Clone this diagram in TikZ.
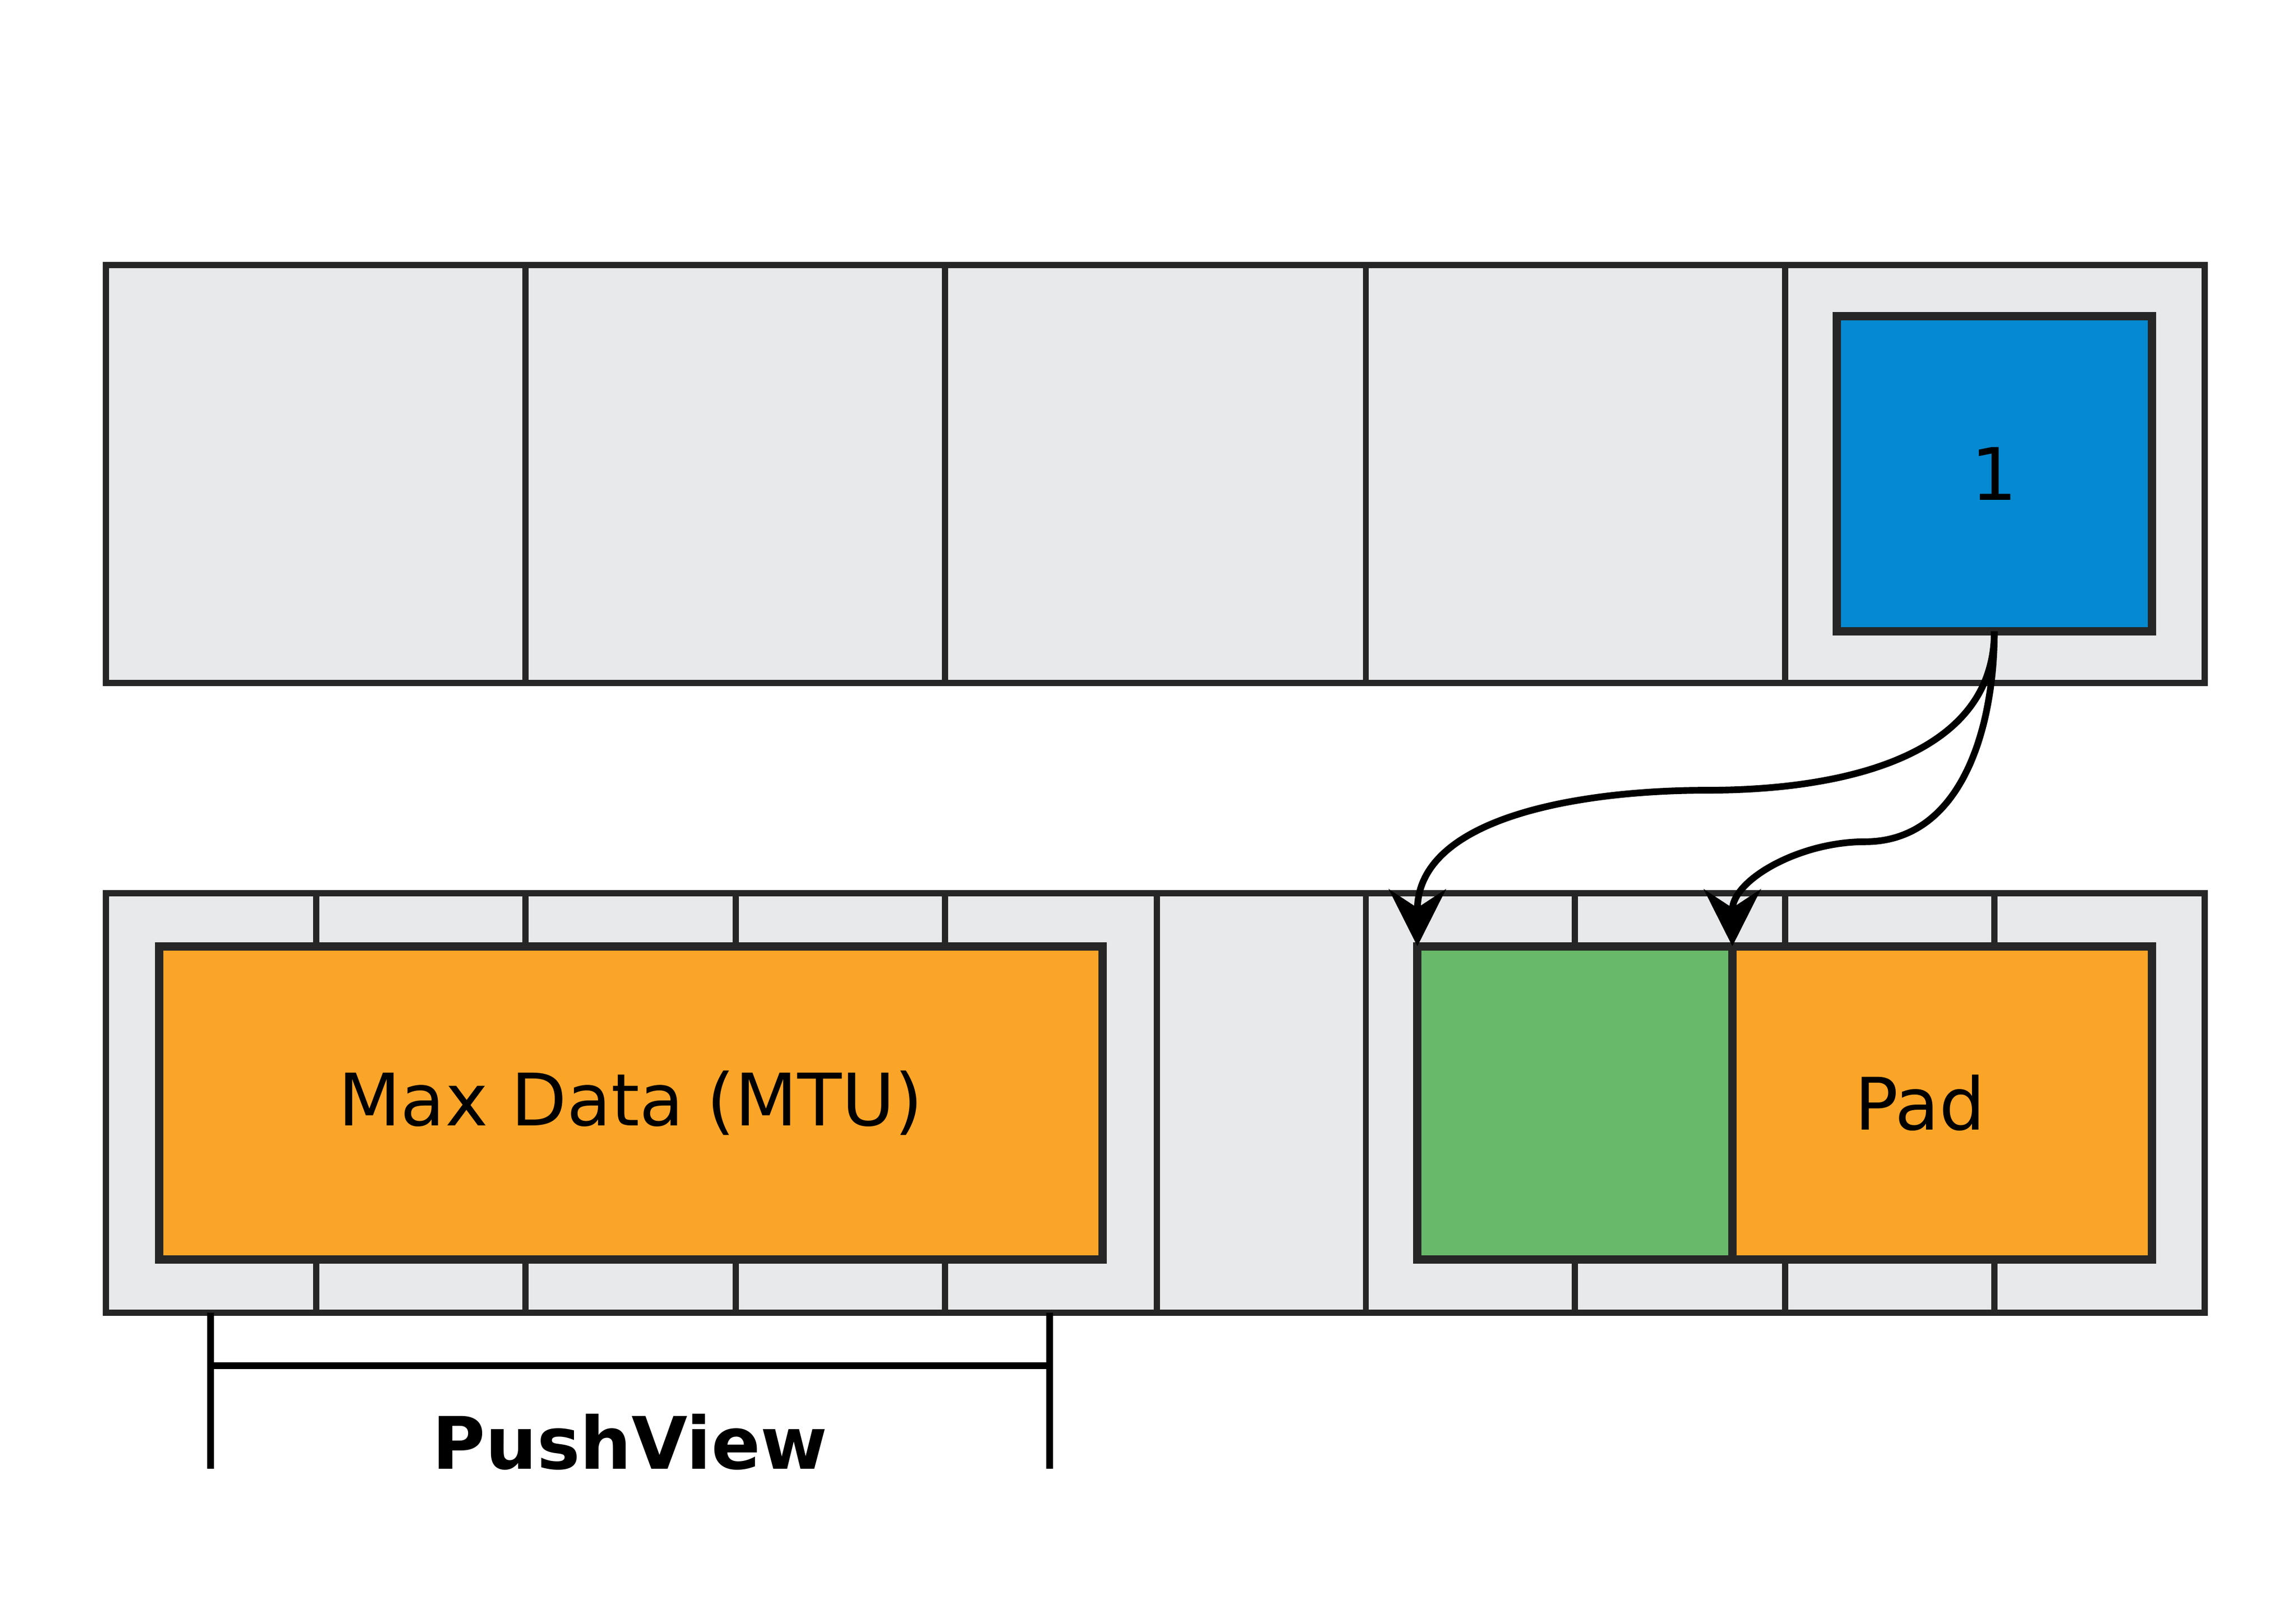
\documentclass[tikz,border=0pt]{standalone}
\usepackage{fontspec}
\setmainfont{DejaVu Sans}
\usetikzlibrary{arrows.meta}
\definecolor{cellgrey}{HTML}{E8E9EB}
\definecolor{edgegrey}{HTML}{262626}
\definecolor{pktblue}{HTML}{0589D1}
\definecolor{pktorange}{HTML}{FBA528}
\definecolor{pktgreen}{HTML}{68BA6A}
\tikzset{
    cell/.style={
           rectangle,
           draw=edgegrey, line width=1.2pt,
           fill=cellgrey,
           inner sep=0pt, outer sep=0pt,
           },
    block/.style={
           rectangle,
           draw=edgegrey, line width=1.6pt,
           inner sep=0pt, outer sep=0pt,
           font=\fontsize{14}{16}\selectfont,
           },
    tick/.style={draw=edgegrey, line width=1.2pt},
    move/.style={line width=1.3pt, -{Stealth[length=11pt,width=11pt]}},
}
\begin{document}
\begin{tikzpicture}
    \useasboundingbox (0,0) rectangle (15.6,11);
    % upper row of slots
    \foreach \i/\xa/\xb in {1/0.72/3.57, 2/3.57/6.42, 3/6.42/9.28, 4/9.28/12.13, 5/12.13/14.98}
        \draw[cell] (\xa,6.36) rectangle (\xb,9.2);
    \node[block, fill=pktblue, minimum width=2.14cm, minimum height=2.14cm] (one) at (13.55,7.78) {1};

    % lower row of slots
    \draw[cell] (0.72,2.08) rectangle (7.86,4.93);
    \draw[cell] (7.86,2.08) rectangle (9.28,4.93);
    \draw[cell] (9.28,2.08) rectangle (14.98,4.93);
    \foreach \x in {2.15, 3.57, 5.00, 6.42, 10.70, 12.13, 13.55} {
        \draw[tick] (\x,4.93) -- (\x,4.57);
        \draw[tick] (\x,2.08) -- (\x,2.44);
    }
    \node[block, fill=pktorange, minimum width=6.41cm, minimum height=2.13cm] (data) at (4.285,3.505) {Max Data (MTU)};
    \node[block, fill=pktgreen, minimum width=2.14cm, minimum height=2.13cm] (head) at (10.70,3.505) {};
    \node[block, fill=pktorange, minimum width=2.85cm, minimum height=2.13cm] (pad) at (13.195,3.505) {\hspace*{-0.3cm}Pad};

    % copies from the upper slot
    \draw[move] (one.south) to[out=-90,in=0] (11.6,5.63) to[out=180,in=90] (head.north west);
    \draw[move] (one.south) to[out=-90,in=0] (12.67,5.28) to[out=180,in=90] (head.north east);

    % push view marker
    \coordinate (pvl) at (1.43,2.08);
    \coordinate (pvr) at (7.13,2.08);
    \draw[line width=1.3pt] (pvl) -- ++(0,-1.06) (pvr) -- ++(0,-1.06);
    \draw[line width=1.3pt] ([yshift=-0.36cm]pvl) -- ([yshift=-0.36cm]pvr);
    \node[font=\fontsize{14}{16}\selectfont\bfseries] (pv) at (4.28,1.2) {PushView};
\end{tikzpicture}
\end{document}
